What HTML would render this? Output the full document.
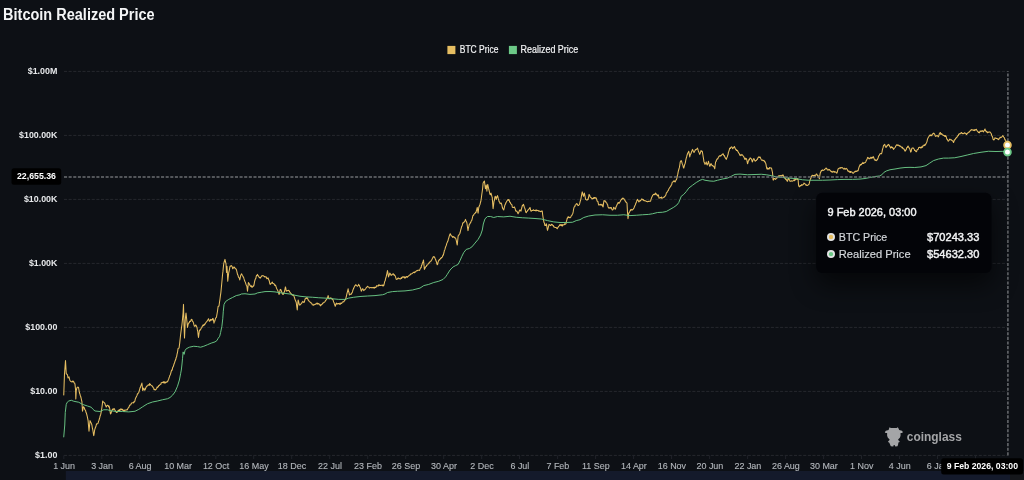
<!DOCTYPE html>
<html lang="en"><head><meta charset="utf-8"><title>Bitcoin Realized Price</title>
<style>
html,body{margin:0;padding:0;background:#0d1015;}
body{width:1024px;height:480px;overflow:hidden;font-family:"Liberation Sans",sans-serif;}
svg{display:block;will-change:transform;}
text{font-family:"Liberation Sans",sans-serif;}
</style></head><body>
<svg width="1024" height="480" viewBox="0 0 1024 480">
<rect width="1024" height="480" fill="#0d1015"/>

<rect x="65.8" y="471" width="944.2" height="9" fill="#141a2b"/>
<rect x="1010" y="471" width="14" height="9" fill="#15171b"/>
<text x="3.1" y="20.2" font-size="15.8" font-weight="700" fill="#f4f5f6" textLength="151.5" lengthAdjust="spacingAndGlyphs">Bitcoin Realized Price</text>
<rect x="447.4" y="45.9" width="8" height="8.2" fill="#e6be62"/>
<text x="459.8" y="53.1" font-size="10.1" fill="#f2f3f4" stroke="#f2f3f4" stroke-width="0.2" textLength="38.6" lengthAdjust="spacingAndGlyphs">BTC Price</text>
<rect x="508.9" y="45.9" width="8" height="8.2" fill="#6cc987"/>
<text x="520.6" y="53.1" font-size="10.1" fill="#f2f3f4" stroke="#f2f3f4" stroke-width="0.2" textLength="57.6" lengthAdjust="spacingAndGlyphs">Realized Price</text>
<line x1="64.0" y1="71.4" x2="1007.6" y2="71.4" stroke="#25282d" stroke-width="1" stroke-dasharray="3.08 1.54"/>
<line x1="64.0" y1="135.4" x2="1007.6" y2="135.4" stroke="#25282d" stroke-width="1" stroke-dasharray="3.08 1.54"/>
<line x1="64.0" y1="199.4" x2="1007.6" y2="199.4" stroke="#25282d" stroke-width="1" stroke-dasharray="3.08 1.54"/>
<line x1="64.0" y1="263.4" x2="1007.6" y2="263.4" stroke="#25282d" stroke-width="1" stroke-dasharray="3.08 1.54"/>
<line x1="64.0" y1="327.4" x2="1007.6" y2="327.4" stroke="#25282d" stroke-width="1" stroke-dasharray="3.08 1.54"/>
<line x1="64.0" y1="391.4" x2="1007.6" y2="391.4" stroke="#25282d" stroke-width="1" stroke-dasharray="3.08 1.54"/>
<line x1="64.0" y1="455.4" x2="1007.6" y2="455.4" stroke="#25282d" stroke-width="1" stroke-dasharray="3.08 1.54"/>
<text x="57.4" y="73.8" font-size="9.5" font-weight="700" fill="#e6e8ea" text-anchor="end" textLength="29.7" lengthAdjust="spacingAndGlyphs">$1.00M</text>
<text x="57.4" y="137.8" font-size="9.5" font-weight="700" fill="#e6e8ea" text-anchor="end" textLength="38.3" lengthAdjust="spacingAndGlyphs">$100.00K</text>
<text x="57.4" y="201.8" font-size="9.5" font-weight="700" fill="#e6e8ea" text-anchor="end" textLength="33.5" lengthAdjust="spacingAndGlyphs">$10.00K</text>
<text x="57.4" y="265.8" font-size="9.5" font-weight="700" fill="#e6e8ea" text-anchor="end" textLength="28.5" lengthAdjust="spacingAndGlyphs">$1.00K</text>
<text x="57.4" y="329.8" font-size="9.5" font-weight="700" fill="#e6e8ea" text-anchor="end" textLength="32.1" lengthAdjust="spacingAndGlyphs">$100.00</text>
<text x="57.4" y="393.8" font-size="9.5" font-weight="700" fill="#e6e8ea" text-anchor="end" textLength="27.2" lengthAdjust="spacingAndGlyphs">$10.00</text>
<text x="57.4" y="457.8" font-size="9.5" font-weight="700" fill="#e6e8ea" text-anchor="end" textLength="22.3" lengthAdjust="spacingAndGlyphs">$1.00</text>
<line x1="63.8" y1="455.4" x2="63.8" y2="459" stroke="#1f2228" stroke-width="1"/>
<line x1="101.8" y1="455.4" x2="101.8" y2="459" stroke="#1f2228" stroke-width="1"/>
<line x1="139.8" y1="455.4" x2="139.8" y2="459" stroke="#1f2228" stroke-width="1"/>
<line x1="177.8" y1="455.4" x2="177.8" y2="459" stroke="#1f2228" stroke-width="1"/>
<line x1="215.8" y1="455.4" x2="215.8" y2="459" stroke="#1f2228" stroke-width="1"/>
<line x1="253.7" y1="455.4" x2="253.7" y2="459" stroke="#1f2228" stroke-width="1"/>
<line x1="291.7" y1="455.4" x2="291.7" y2="459" stroke="#1f2228" stroke-width="1"/>
<line x1="329.7" y1="455.4" x2="329.7" y2="459" stroke="#1f2228" stroke-width="1"/>
<line x1="367.7" y1="455.4" x2="367.7" y2="459" stroke="#1f2228" stroke-width="1"/>
<line x1="405.7" y1="455.4" x2="405.7" y2="459" stroke="#1f2228" stroke-width="1"/>
<line x1="443.7" y1="455.4" x2="443.7" y2="459" stroke="#1f2228" stroke-width="1"/>
<line x1="481.7" y1="455.4" x2="481.7" y2="459" stroke="#1f2228" stroke-width="1"/>
<line x1="519.6" y1="455.4" x2="519.6" y2="459" stroke="#1f2228" stroke-width="1"/>
<line x1="557.6" y1="455.4" x2="557.6" y2="459" stroke="#1f2228" stroke-width="1"/>
<line x1="595.6" y1="455.4" x2="595.6" y2="459" stroke="#1f2228" stroke-width="1"/>
<line x1="633.6" y1="455.4" x2="633.6" y2="459" stroke="#1f2228" stroke-width="1"/>
<line x1="671.6" y1="455.4" x2="671.6" y2="459" stroke="#1f2228" stroke-width="1"/>
<line x1="709.6" y1="455.4" x2="709.6" y2="459" stroke="#1f2228" stroke-width="1"/>
<line x1="747.6" y1="455.4" x2="747.6" y2="459" stroke="#1f2228" stroke-width="1"/>
<line x1="785.6" y1="455.4" x2="785.6" y2="459" stroke="#1f2228" stroke-width="1"/>
<line x1="823.6" y1="455.4" x2="823.6" y2="459" stroke="#1f2228" stroke-width="1"/>
<line x1="861.5" y1="455.4" x2="861.5" y2="459" stroke="#1f2228" stroke-width="1"/>
<line x1="899.5" y1="455.4" x2="899.5" y2="459" stroke="#1f2228" stroke-width="1"/>
<line x1="937.5" y1="455.4" x2="937.5" y2="459" stroke="#1f2228" stroke-width="1"/>
<line x1="975.5" y1="455.4" x2="975.5" y2="459" stroke="#1f2228" stroke-width="1"/>
<text x="64.1" y="469" font-size="9.8" fill="#b4b8bd" stroke="#b4b8bd" stroke-width="0.12" text-anchor="middle" textLength="21.9" lengthAdjust="spacingAndGlyphs">1 Jun</text>
<text x="102.1" y="469" font-size="9.8" fill="#b4b8bd" stroke="#b4b8bd" stroke-width="0.12" text-anchor="middle" textLength="21.9" lengthAdjust="spacingAndGlyphs">3 Jan</text>
<text x="140.1" y="469" font-size="9.8" fill="#b4b8bd" stroke="#b4b8bd" stroke-width="0.12" text-anchor="middle" textLength="22.9" lengthAdjust="spacingAndGlyphs">6 Aug</text>
<text x="178.1" y="469" font-size="9.8" fill="#b4b8bd" stroke="#b4b8bd" stroke-width="0.12" text-anchor="middle" textLength="27.9" lengthAdjust="spacingAndGlyphs">10 Mar</text>
<text x="216.1" y="469" font-size="9.8" fill="#b4b8bd" stroke="#b4b8bd" stroke-width="0.12" text-anchor="middle" textLength="26.4" lengthAdjust="spacingAndGlyphs">12 Oct</text>
<text x="254.0" y="469" font-size="9.8" fill="#b4b8bd" stroke="#b4b8bd" stroke-width="0.12" text-anchor="middle" textLength="29.4" lengthAdjust="spacingAndGlyphs">16 May</text>
<text x="292.0" y="469" font-size="9.8" fill="#b4b8bd" stroke="#b4b8bd" stroke-width="0.12" text-anchor="middle" textLength="28.4" lengthAdjust="spacingAndGlyphs">18 Dec</text>
<text x="330.0" y="469" font-size="9.8" fill="#b4b8bd" stroke="#b4b8bd" stroke-width="0.12" text-anchor="middle" textLength="23.9" lengthAdjust="spacingAndGlyphs">22 Jul</text>
<text x="368.0" y="469" font-size="9.8" fill="#b4b8bd" stroke="#b4b8bd" stroke-width="0.12" text-anchor="middle" textLength="27.9" lengthAdjust="spacingAndGlyphs">23 Feb</text>
<text x="406.0" y="469" font-size="9.8" fill="#b4b8bd" stroke="#b4b8bd" stroke-width="0.12" text-anchor="middle" textLength="28.4" lengthAdjust="spacingAndGlyphs">26 Sep</text>
<text x="444.0" y="469" font-size="9.8" fill="#b4b8bd" stroke="#b4b8bd" stroke-width="0.12" text-anchor="middle" textLength="25.9" lengthAdjust="spacingAndGlyphs">30 Apr</text>
<text x="482.0" y="469" font-size="9.8" fill="#b4b8bd" stroke="#b4b8bd" stroke-width="0.12" text-anchor="middle" textLength="23.4" lengthAdjust="spacingAndGlyphs">2 Dec</text>
<text x="519.9" y="469" font-size="9.8" fill="#b4b8bd" stroke="#b4b8bd" stroke-width="0.12" text-anchor="middle" textLength="18.9" lengthAdjust="spacingAndGlyphs">6 Jul</text>
<text x="557.9" y="469" font-size="9.8" fill="#b4b8bd" stroke="#b4b8bd" stroke-width="0.12" text-anchor="middle" textLength="22.9" lengthAdjust="spacingAndGlyphs">7 Feb</text>
<text x="595.9" y="469" font-size="9.8" fill="#b4b8bd" stroke="#b4b8bd" stroke-width="0.12" text-anchor="middle" textLength="27.7" lengthAdjust="spacingAndGlyphs">11 Sep</text>
<text x="633.9" y="469" font-size="9.8" fill="#b4b8bd" stroke="#b4b8bd" stroke-width="0.12" text-anchor="middle" textLength="25.9" lengthAdjust="spacingAndGlyphs">14 Apr</text>
<text x="671.9" y="469" font-size="9.8" fill="#b4b8bd" stroke="#b4b8bd" stroke-width="0.12" text-anchor="middle" textLength="28.4" lengthAdjust="spacingAndGlyphs">16 Nov</text>
<text x="709.9" y="469" font-size="9.8" fill="#b4b8bd" stroke="#b4b8bd" stroke-width="0.12" text-anchor="middle" textLength="26.9" lengthAdjust="spacingAndGlyphs">20 Jun</text>
<text x="747.9" y="469" font-size="9.8" fill="#b4b8bd" stroke="#b4b8bd" stroke-width="0.12" text-anchor="middle" textLength="26.9" lengthAdjust="spacingAndGlyphs">22 Jan</text>
<text x="785.9" y="469" font-size="9.8" fill="#b4b8bd" stroke="#b4b8bd" stroke-width="0.12" text-anchor="middle" textLength="27.9" lengthAdjust="spacingAndGlyphs">26 Aug</text>
<text x="823.9" y="469" font-size="9.8" fill="#b4b8bd" stroke="#b4b8bd" stroke-width="0.12" text-anchor="middle" textLength="27.9" lengthAdjust="spacingAndGlyphs">30 Mar</text>
<text x="861.8" y="469" font-size="9.8" fill="#b4b8bd" stroke="#b4b8bd" stroke-width="0.12" text-anchor="middle" textLength="23.4" lengthAdjust="spacingAndGlyphs">1 Nov</text>
<text x="899.8" y="469" font-size="9.8" fill="#b4b8bd" stroke="#b4b8bd" stroke-width="0.12" text-anchor="middle" textLength="21.9" lengthAdjust="spacingAndGlyphs">4 Jun</text>
<text x="937.8" y="469" font-size="9.8" fill="#b4b8bd" stroke="#b4b8bd" stroke-width="0.12" text-anchor="middle" textLength="21.9" lengthAdjust="spacingAndGlyphs">6 Jan</text>
<path d="M889.63,427.13 L890.79,428.01 L896.63,428.01 L897.79,427.13 L898.55,428.53 L899.25,429.88 L901.88,430.75 L902.87,432.04 L902.17,432.97 L900.54,432.97 L900.54,435.71 L899.84,437.87 L898.09,439.50 L898.55,440.38 L899.72,441.14 L899.25,442.13 L898.38,442.54 L898.20,444.17 L897.50,446.21 L895.29,446.39 L894.59,445.05 L893.71,445.05 L893.30,446.39 L890.79,446.21 L890.04,444.46 L889.33,442.71 L888.46,442.13 L888.05,441.37 L889.22,440.55 L889.63,439.62 L887.88,437.87 L887.12,435.71 L887.12,433.09 L885.54,433.09 L884.84,432.21 L885.83,430.87 L888.63,429.88 L889.04,428.53 Z" fill="#a4a5a7"/>
<text x="906.8" y="440.9" font-size="13" font-weight="700" fill="#a4a5a7" textLength="55" lengthAdjust="spacingAndGlyphs">coinglass</text>
<path d="M63.75,395.00 L64.12,384.28 L64.50,373.75 L65.00,367.37 L65.50,360.60 L65.88,367.09 L66.25,373.75 L66.67,374.05 L67.08,374.23 L67.50,375.00 L68.00,378.00 L68.50,377.37 L69.00,376.90 L69.50,379.17 L70.00,380.60 L70.38,381.02 L70.76,381.51 L71.14,381.47 L71.52,381.79 L71.90,381.90 L72.30,381.81 L72.70,380.94 L73.10,381.74 L73.50,381.25 L73.88,382.23 L74.25,383.01 L74.62,382.97 L75.00,384.40 L75.60,390.00 L75.80,399.00 L76.30,390.00 L76.90,388.00 L77.30,387.15 L77.70,387.29 L78.10,387.26 L78.50,387.25 L78.95,389.99 L79.40,392.50 L79.80,393.73 L80.20,395.20 L80.60,396.25 L81.03,397.76 L81.47,399.87 L81.90,401.50 L82.50,411.25 L82.95,409.17 L83.40,406.80 L83.90,407.15 L84.40,408.00 L84.80,409.52 L85.20,409.94 L85.60,410.60 L86.03,412.52 L86.47,413.30 L86.90,415.00 L87.30,416.59 L87.70,418.60 L88.10,420.60 L88.55,425.88 L89.00,431.25 L89.50,426.17 L90.00,420.60 L90.38,421.57 L90.76,422.19 L91.14,422.88 L91.52,423.92 L91.90,425.00 L92.36,428.11 L92.83,429.99 L93.29,433.04 L93.75,435.60 L94.17,433.48 L94.58,430.47 L95.00,428.75 L95.42,427.52 L95.83,426.75 L96.25,425.00 L96.71,423.76 L97.17,423.93 L97.64,423.53 L98.10,423.10 L98.53,421.34 L98.97,420.39 L99.40,418.75 L99.80,417.48 L100.20,415.69 L100.60,415.00 L101.03,412.81 L101.47,410.25 L101.90,407.50 L102.30,404.61 L102.70,401.00 L103.12,402.00 L103.55,402.04 L103.98,402.40 L104.40,402.80 L104.86,403.36 L105.33,405.13 L105.79,405.72 L106.25,407.00 L106.67,406.26 L107.08,405.39 L107.50,405.30 L107.88,405.31 L108.26,405.86 L108.64,406.93 L109.02,406.05 L109.40,407.20 L109.77,408.91 L110.13,411.82 L110.50,414.00 L110.97,413.42 L111.43,411.95 L111.90,410.60 L112.32,409.57 L112.73,409.03 L113.15,409.81 L113.57,409.09 L113.98,408.63 L114.40,408.75 L114.80,409.87 L115.20,410.67 L115.60,411.06 L116.00,411.84 L116.40,412.50 L116.83,412.19 L117.25,412.16 L117.67,411.31 L118.10,410.60 L118.49,410.65 L118.89,410.51 L119.28,409.55 L119.67,410.49 L120.07,410.21 L120.46,409.90 L120.86,408.80 L121.25,409.40 L121.67,409.36 L122.08,410.12 L122.50,409.31 L122.92,410.13 L123.33,410.79 L123.75,410.60 L124.17,409.97 L124.58,410.95 L125.00,410.41 L125.42,410.01 L125.83,410.06 L126.25,410.05 L126.67,409.71 L127.08,409.97 L127.50,409.40 L127.92,408.42 L128.33,407.78 L128.75,407.60 L129.17,406.48 L129.58,405.40 L130.00,405.00 L130.38,404.98 L130.76,404.80 L131.14,403.69 L131.52,402.96 L131.90,403.10 L132.32,402.85 L132.73,402.64 L133.15,402.39 L133.57,402.83 L133.98,401.71 L134.40,401.90 L134.86,401.13 L135.32,398.92 L135.79,397.85 L136.25,396.90 L136.67,396.09 L137.08,395.23 L137.50,393.75 L137.92,393.66 L138.33,393.05 L138.75,392.50 L139.17,391.09 L139.58,389.62 L140.00,388.10 L140.38,387.32 L140.76,386.03 L141.14,385.21 L141.52,384.32 L141.90,383.10 L142.32,386.85 L142.75,390.60 L143.25,389.64 L143.75,388.10 L144.17,388.95 L144.58,390.13 L145.00,390.00 L145.42,389.09 L145.83,387.77 L146.25,386.90 L146.71,386.28 L147.18,385.95 L147.64,385.83 L148.10,385.00 L148.48,384.75 L148.86,384.91 L149.24,385.34 L149.62,383.55 L150.00,384.40 L150.42,384.28 L150.83,385.11 L151.25,385.48 L151.67,385.72 L152.08,385.78 L152.50,386.25 L152.88,387.13 L153.26,387.62 L153.64,387.94 L154.02,389.69 L154.40,389.40 L154.80,389.73 L155.20,389.59 L155.60,390.00 L155.98,389.46 L156.36,388.91 L156.74,388.48 L157.12,386.96 L157.50,387.50 L157.92,386.80 L158.33,386.85 L158.75,385.51 L159.17,385.41 L159.58,385.28 L160.00,384.40 L160.42,384.37 L160.83,384.25 L161.25,382.68 L161.67,382.83 L162.08,382.48 L162.50,382.25 L162.94,382.56 L163.39,382.81 L163.83,381.44 L164.27,382.95 L164.71,382.06 L165.16,382.94 L165.60,382.75 L166.03,381.88 L166.46,382.22 L166.89,382.30 L167.32,381.49 L167.75,381.25 L168.16,380.24 L168.57,379.38 L168.99,378.04 L169.40,376.90 L169.86,375.45 L170.32,374.66 L170.79,373.06 L171.25,371.25 L171.71,370.05 L172.18,370.12 L172.64,367.55 L173.10,366.90 L173.48,366.11 L173.86,364.52 L174.24,363.53 L174.62,362.61 L175.00,361.20 L175.40,360.21 L175.80,359.29 L176.20,357.39 L176.60,356.90 L177.05,354.13 L177.50,352.50 L178.10,348.40 L178.60,348.33 L179.10,347.80 L179.70,343.10 L180.30,337.50 L180.70,334.01 L181.10,330.86 L181.50,327.57 L181.90,325.00 L182.30,321.31 L182.70,316.95 L183.10,312.50 L183.50,304.40 L184.00,325.00 L184.50,338.10 L184.88,329.61 L185.25,320.00 L185.62,316.19 L186.00,313.10 L186.45,317.18 L186.90,321.25 L187.50,327.50 L188.00,324.87 L188.50,323.10 L188.88,322.93 L189.25,322.78 L189.62,321.37 L190.00,321.25 L190.38,321.38 L190.75,320.70 L191.12,319.79 L191.50,319.40 L191.90,319.28 L192.30,321.18 L192.70,321.24 L193.10,321.90 L193.53,323.12 L193.97,324.95 L194.40,326.25 L194.80,325.99 L195.20,325.99 L195.60,325.00 L196.03,325.25 L196.47,326.70 L196.90,326.90 L197.32,329.64 L197.75,331.25 L198.12,334.93 L198.50,337.50 L198.95,333.98 L199.40,330.60 L199.80,329.92 L200.20,330.19 L200.60,329.40 L201.01,328.66 L201.43,327.87 L201.84,327.58 L202.25,326.25 L202.62,325.99 L203.00,325.05 L203.38,325.62 L203.75,325.60 L204.21,324.27 L204.68,324.66 L205.14,323.85 L205.60,323.10 L206.03,322.25 L206.47,321.86 L206.90,321.25 L207.30,320.94 L207.70,320.03 L208.10,319.88 L208.50,318.75 L208.95,319.98 L209.40,321.25 L209.80,321.03 L210.20,320.58 L210.60,319.40 L211.03,320.21 L211.47,319.54 L211.90,320.00 L212.30,319.92 L212.70,318.45 L213.10,318.75 L213.55,320.51 L214.00,323.10 L214.42,321.12 L214.83,321.04 L215.25,319.40 L215.67,318.10 L216.08,317.73 L216.50,316.90 L217.00,314.00 L217.50,311.25 L218.10,306.50 L218.55,306.24 L219.00,306.00 L219.50,302.28 L220.00,299.00 L220.42,295.67 L220.83,292.85 L221.25,288.75 L221.67,284.18 L222.08,279.79 L222.50,275.00 L222.92,271.63 L223.33,267.42 L223.75,263.75 L224.17,261.82 L224.58,260.64 L225.00,259.40 L225.50,261.98 L226.00,263.75 L226.50,272.50 L227.00,266.25 L227.38,273.12 L227.75,281.25 L228.25,276.65 L228.75,272.50 L229.17,270.80 L229.58,268.63 L230.00,266.25 L230.38,266.09 L230.75,266.23 L231.12,265.83 L231.50,265.60 L231.92,266.20 L232.33,267.11 L232.75,268.75 L233.17,267.89 L233.58,267.87 L234.00,266.90 L234.42,267.30 L234.83,267.79 L235.25,268.75 L235.67,268.87 L236.08,269.00 L236.50,270.00 L237.00,272.16 L237.50,274.40 L237.92,274.99 L238.33,276.61 L238.75,277.50 L239.25,277.85 L239.75,280.00 L240.25,277.62 L240.75,275.00 L241.13,274.56 L241.52,273.86 L241.90,274.40 L242.30,275.51 L242.70,275.96 L243.10,276.90 L243.53,277.09 L243.97,278.63 L244.40,280.00 L244.80,281.14 L245.20,281.89 L245.60,283.10 L246.03,284.45 L246.47,285.48 L246.90,286.25 L247.50,291.25 L247.95,287.13 L248.40,282.50 L248.90,283.25 L249.40,283.75 L249.80,285.09 L250.20,285.67 L250.60,286.25 L250.98,286.55 L251.36,285.72 L251.74,286.98 L252.12,287.27 L252.50,286.90 L252.88,286.31 L253.25,285.77 L253.62,286.21 L254.00,285.00 L254.50,281.83 L255.00,280.00 L255.42,278.93 L255.83,278.42 L256.25,276.25 L256.67,275.28 L257.08,275.28 L257.50,274.40 L257.88,275.74 L258.25,275.60 L258.62,276.49 L259.00,276.90 L259.42,277.64 L259.83,277.36 L260.25,278.10 L260.66,277.44 L261.07,276.96 L261.49,276.54 L261.90,275.60 L262.36,275.75 L262.82,275.85 L263.29,275.70 L263.75,276.25 L264.21,276.28 L264.68,276.91 L265.14,276.78 L265.60,276.90 L265.98,276.82 L266.36,277.06 L266.74,278.63 L267.12,278.29 L267.50,278.10 L267.88,278.82 L268.25,278.06 L268.62,279.76 L269.00,280.00 L269.42,281.65 L269.83,283.57 L270.25,284.40 L270.66,284.09 L271.07,283.42 L271.49,283.17 L271.90,282.50 L272.36,282.07 L272.82,283.52 L273.29,283.56 L273.75,283.75 L274.12,283.80 L274.50,284.88 L274.88,285.38 L275.25,285.00 L275.67,285.50 L276.08,286.81 L276.50,288.10 L276.92,289.04 L277.33,289.84 L277.75,290.60 L278.17,291.72 L278.58,292.76 L279.00,294.40 L279.42,293.54 L279.83,291.46 L280.25,289.40 L280.67,289.56 L281.08,290.12 L281.50,291.25 L281.90,292.68 L282.30,293.20 L282.70,294.30 L283.10,294.40 L283.53,293.87 L283.97,292.40 L284.40,291.90 L284.90,289.50 L285.40,286.90 L285.82,288.25 L286.25,291.25 L286.67,290.75 L287.08,290.79 L287.50,290.60 L287.88,290.80 L288.25,290.32 L288.62,290.55 L289.00,290.60 L289.40,291.40 L289.80,291.99 L290.20,292.72 L290.60,293.10 L291.01,293.65 L291.43,293.93 L291.84,294.82 L292.25,295.00 L292.62,295.17 L293.00,294.99 L293.38,295.21 L293.75,295.60 L294.12,296.70 L294.50,297.76 L294.88,298.96 L295.25,300.00 L295.75,301.25 L296.25,302.50 L296.75,306.32 L297.25,310.00 L297.68,304.95 L298.10,300.00 L298.53,301.19 L298.97,303.49 L299.40,305.00 L299.86,305.09 L300.32,304.54 L300.79,303.99 L301.25,303.75 L301.67,303.30 L302.08,302.15 L302.50,301.90 L302.88,301.33 L303.25,302.22 L303.62,302.00 L304.00,302.50 L304.40,301.84 L304.80,300.21 L305.20,298.69 L305.60,298.75 L306.03,297.94 L306.47,298.52 L306.90,297.50 L307.30,298.19 L307.70,298.65 L308.10,300.00 L308.48,300.09 L308.86,300.96 L309.24,301.33 L309.62,301.59 L310.00,301.90 L310.38,302.76 L310.75,302.77 L311.12,302.79 L311.50,303.10 L311.90,303.80 L312.30,304.68 L312.70,304.89 L313.10,305.00 L313.48,305.27 L313.86,304.35 L314.24,304.58 L314.62,304.80 L315.00,304.40 L315.38,304.03 L315.76,304.29 L316.14,303.85 L316.52,303.71 L316.90,303.10 L317.36,303.12 L317.82,304.27 L318.29,303.87 L318.75,303.50 L319.17,303.92 L319.58,304.53 L320.00,305.00 L320.38,305.87 L320.76,304.63 L321.14,304.97 L321.52,304.89 L321.90,304.40 L322.36,303.93 L322.82,303.01 L323.29,303.05 L323.75,302.50 L324.21,302.16 L324.68,301.98 L325.14,301.37 L325.60,300.60 L326.01,299.98 L326.43,299.67 L326.84,298.93 L327.25,298.10 L327.68,296.93 L328.10,295.60 L328.55,297.20 L329.00,298.75 L329.40,298.50 L329.80,298.69 L330.20,297.86 L330.60,298.10 L330.98,298.12 L331.36,298.62 L331.74,298.32 L332.12,298.97 L332.50,299.40 L332.88,299.41 L333.25,300.69 L333.62,301.94 L334.00,302.50 L334.42,303.97 L334.83,304.98 L335.25,306.25 L335.67,305.11 L336.08,303.61 L336.50,303.10 L336.90,303.96 L337.30,303.62 L337.70,304.00 L338.10,303.75 L338.48,303.46 L338.86,303.78 L339.24,303.21 L339.62,304.25 L340.00,304.00 L340.38,304.18 L340.76,302.92 L341.14,303.44 L341.52,303.52 L341.90,303.10 L342.36,302.13 L342.82,301.81 L343.29,301.80 L343.75,301.90 L344.21,301.04 L344.68,300.12 L345.14,300.04 L345.60,299.40 L346.03,297.61 L346.47,295.87 L346.90,293.75 L347.30,292.35 L347.70,290.99 L348.10,288.75 L348.53,291.28 L348.97,292.42 L349.40,295.00 L349.80,294.66 L350.20,294.30 L350.60,294.14 L351.00,294.40 L351.38,293.74 L351.75,293.15 L352.12,292.71 L352.50,291.90 L352.88,290.20 L353.25,289.23 L353.62,288.59 L354.00,287.50 L354.40,286.74 L354.80,286.01 L355.20,285.41 L355.60,284.75 L355.98,284.76 L356.36,285.62 L356.74,285.78 L357.12,285.92 L357.50,286.25 L357.88,285.68 L358.25,285.56 L358.62,284.28 L359.00,285.00 L359.42,285.46 L359.83,286.68 L360.25,287.50 L360.75,288.80 L361.25,291.25 L361.67,290.49 L362.08,289.64 L362.50,288.75 L362.92,288.84 L363.33,289.89 L363.75,290.60 L364.21,290.02 L364.68,289.85 L365.14,289.45 L365.60,288.75 L365.98,288.24 L366.36,287.43 L366.74,287.20 L367.12,286.73 L367.50,286.25 L367.88,286.90 L368.26,287.10 L368.64,287.09 L369.02,287.22 L369.40,288.10 L369.86,287.87 L370.32,287.64 L370.79,287.41 L371.25,287.75 L371.67,287.66 L372.08,287.48 L372.50,287.67 L372.92,287.78 L373.33,287.38 L373.75,287.50 L374.17,288.28 L374.58,287.18 L375.00,287.62 L375.42,287.15 L375.83,287.42 L376.25,286.90 L376.67,285.64 L377.08,285.90 L377.50,285.92 L377.92,285.70 L378.33,286.00 L378.75,284.75 L379.17,284.96 L379.58,285.40 L380.00,285.29 L380.42,285.44 L380.83,285.36 L381.25,285.25 L381.67,285.25 L382.08,285.56 L382.50,285.02 L382.92,285.93 L383.33,285.16 L383.75,285.60 L384.25,283.52 L384.75,281.25 L385.17,280.81 L385.58,278.67 L386.00,277.50 L386.38,275.78 L386.75,274.49 L387.12,272.33 L387.50,270.60 L388.00,273.44 L388.50,276.90 L388.92,275.73 L389.33,274.59 L389.75,273.10 L390.12,273.84 L390.50,273.76 L390.88,275.19 L391.25,275.00 L391.71,275.32 L392.18,274.38 L392.64,274.16 L393.10,273.75 L393.48,273.96 L393.86,275.03 L394.24,274.59 L394.62,275.49 L395.00,275.60 L395.42,276.68 L395.83,277.87 L396.25,279.40 L396.71,279.35 L397.18,279.26 L397.64,278.42 L398.10,278.10 L398.48,277.97 L398.86,278.67 L399.24,278.47 L399.62,278.74 L400.00,278.75 L400.42,279.02 L400.83,278.56 L401.25,277.63 L401.67,278.38 L402.08,277.21 L402.50,276.90 L402.92,277.30 L403.33,276.85 L403.75,277.18 L404.17,276.64 L404.58,278.08 L405.00,277.50 L405.42,277.92 L405.83,276.84 L406.25,276.63 L406.67,276.48 L407.08,277.45 L407.50,276.90 L407.92,276.41 L408.33,276.24 L408.75,275.83 L409.17,275.59 L409.58,274.90 L410.00,275.00 L410.42,274.69 L410.83,273.82 L411.25,274.02 L411.67,273.85 L412.08,273.59 L412.50,273.10 L412.92,272.81 L413.33,272.36 L413.75,272.56 L414.17,272.12 L414.58,272.70 L415.00,271.90 L415.42,271.98 L415.83,271.42 L416.25,271.07 L416.67,270.77 L417.08,270.46 L417.50,270.60 L417.92,270.27 L418.33,270.31 L418.75,270.20 L419.17,270.02 L419.58,270.40 L420.00,269.40 L420.38,268.25 L420.76,267.64 L421.14,267.82 L421.52,265.17 L421.90,265.00 L422.30,263.55 L422.70,262.56 L423.10,261.31 L423.50,260.00 L423.95,264.85 L424.40,269.40 L424.80,268.48 L425.20,267.87 L425.60,266.90 L425.98,266.54 L426.36,266.43 L426.74,265.04 L427.12,265.04 L427.50,265.00 L427.88,264.50 L428.26,263.61 L428.64,263.10 L429.02,263.24 L429.40,262.50 L429.86,261.78 L430.32,261.79 L430.79,261.36 L431.25,260.60 L431.67,259.88 L432.08,259.13 L432.50,258.10 L432.88,257.66 L433.25,256.76 L433.62,256.89 L434.00,256.50 L434.40,257.40 L434.80,257.75 L435.20,258.64 L435.60,259.40 L436.01,261.01 L436.43,261.72 L436.84,263.62 L437.25,264.70 L437.62,264.31 L438.00,262.29 L438.38,261.46 L438.75,260.30 L439.21,259.77 L439.68,259.94 L440.14,259.00 L440.60,258.40 L440.98,258.44 L441.36,257.54 L441.74,257.49 L442.12,257.20 L442.50,256.90 L442.88,255.13 L443.25,255.25 L443.62,253.94 L444.00,252.50 L444.40,250.44 L444.80,249.98 L445.20,248.25 L445.60,246.90 L446.01,245.97 L446.43,244.84 L446.84,243.03 L447.25,242.50 L447.62,241.32 L448.00,240.87 L448.38,238.98 L448.75,238.10 L449.12,236.62 L449.50,235.41 L449.88,234.37 L450.25,233.75 L450.66,234.50 L451.07,235.64 L451.49,235.79 L451.90,236.25 L452.36,236.51 L452.82,237.42 L453.29,236.54 L453.75,236.90 L454.21,236.94 L454.68,237.70 L455.14,238.01 L455.60,238.10 L456.01,239.44 L456.43,241.11 L456.84,243.39 L457.25,245.00 L457.68,240.72 L458.10,236.25 L458.51,235.13 L458.93,234.92 L459.34,234.17 L459.75,233.75 L460.12,232.51 L460.50,230.88 L460.88,229.48 L461.25,228.10 L461.62,226.72 L462.00,226.00 L462.38,224.88 L462.75,223.10 L463.16,222.66 L463.57,222.82 L463.99,221.91 L464.40,221.90 L464.77,221.09 L465.13,220.52 L465.50,219.40 L465.97,221.18 L466.43,221.65 L466.90,223.00 L467.27,225.51 L467.63,228.14 L468.00,230.60 L468.40,228.06 L468.80,226.67 L469.20,224.70 L469.60,223.89 L470.00,223.74 L470.40,222.62 L470.80,222.50 L471.17,220.92 L471.53,220.85 L471.90,220.00 L472.35,218.10 L472.80,216.00 L473.20,215.23 L473.60,215.21 L474.00,214.21 L474.40,213.75 L474.80,213.21 L475.20,213.31 L475.60,212.22 L476.00,212.50 L476.42,210.58 L476.83,209.16 L477.25,207.50 L477.68,210.62 L478.10,213.10 L478.43,210.24 L478.75,207.50 L479.17,206.58 L479.58,205.18 L480.00,204.40 L480.42,202.63 L480.83,201.27 L481.25,198.75 L481.75,194.74 L482.25,191.25 L482.68,188.07 L483.10,183.10 L483.53,182.16 L483.97,181.71 L484.40,181.00 L484.90,184.94 L485.40,188.75 L485.82,187.26 L486.25,185.00 L486.57,187.65 L486.90,191.25 L487.32,187.03 L487.75,184.40 L488.17,186.50 L488.58,188.44 L489.00,190.00 L489.50,192.44 L490.00,194.40 L490.50,194.75 L491.00,193.10 L491.42,194.64 L491.83,196.13 L492.25,197.50 L492.68,203.48 L493.10,208.75 L493.55,205.14 L494.00,201.25 L494.42,200.22 L494.83,197.45 L495.25,196.25 L495.75,197.68 L496.25,199.40 L496.67,196.82 L497.08,197.18 L497.50,195.60 L497.92,196.93 L498.33,198.88 L498.75,200.00 L499.12,201.76 L499.50,201.87 L499.88,202.72 L500.25,203.75 L500.75,203.24 L501.25,203.10 L501.67,204.45 L502.08,206.19 L502.50,208.10 L502.92,208.98 L503.33,209.38 L503.75,210.00 L504.25,207.83 L504.75,205.60 L505.17,204.50 L505.58,203.88 L506.00,202.50 L506.38,202.06 L506.75,201.20 L507.12,200.88 L507.50,200.00 L507.88,199.88 L508.25,199.44 L508.62,200.37 L509.00,199.75 L509.50,201.30 L510.00,202.50 L510.38,202.61 L510.75,203.86 L511.12,204.06 L511.50,204.40 L511.92,204.84 L512.33,207.08 L512.75,207.50 L513.16,207.48 L513.58,207.54 L513.99,207.13 L514.40,206.90 L514.80,208.08 L515.20,208.78 L515.60,210.60 L516.03,211.19 L516.47,211.04 L516.90,211.25 L517.30,211.97 L517.70,213.05 L518.10,213.75 L518.51,212.84 L518.92,212.13 L519.34,210.80 L519.75,210.00 L520.17,210.40 L520.58,210.02 L521.00,211.25 L521.42,209.21 L521.83,207.74 L522.25,205.60 L522.67,205.71 L523.08,204.66 L523.50,204.40 L523.92,205.59 L524.33,207.47 L524.75,208.10 L525.17,209.44 L525.58,211.31 L526.00,212.50 L526.38,212.66 L526.75,211.57 L527.12,211.54 L527.50,210.60 L527.92,209.93 L528.33,209.88 L528.75,209.40 L529.17,208.74 L529.58,208.18 L530.00,207.50 L530.42,209.18 L530.83,210.91 L531.25,211.25 L531.71,210.68 L532.17,210.41 L532.64,210.50 L533.10,210.00 L533.48,209.72 L533.86,210.43 L534.24,210.58 L534.62,210.37 L535.00,210.60 L535.42,210.80 L535.83,210.01 L536.25,210.89 L536.67,210.01 L537.08,210.34 L537.50,210.60 L537.92,210.50 L538.33,210.66 L538.75,211.25 L539.17,211.06 L539.58,210.99 L540.00,211.25 L540.45,211.41 L540.90,211.75 L541.35,211.10 L541.80,211.19 L542.25,211.00 L542.67,214.72 L543.10,217.50 L543.55,220.10 L544.00,222.50 L544.42,223.05 L544.83,225.51 L545.25,225.60 L545.75,225.51 L546.25,223.75 L546.67,225.18 L547.08,228.10 L547.50,230.30 L547.88,228.98 L548.25,227.72 L548.62,226.13 L549.00,224.40 L549.42,224.70 L549.83,224.80 L550.25,225.60 L550.66,225.34 L551.08,225.39 L551.49,224.29 L551.90,224.40 L552.36,224.63 L552.83,225.64 L553.29,225.54 L553.75,226.90 L554.21,226.95 L554.67,227.03 L555.14,227.52 L555.60,227.50 L556.01,227.55 L556.42,227.79 L556.84,228.29 L557.25,228.75 L557.62,228.11 L558.00,227.25 L558.38,226.88 L558.75,226.25 L559.17,225.92 L559.58,225.47 L560.00,224.40 L560.38,225.35 L560.75,224.70 L561.12,225.14 L561.50,225.60 L561.95,224.49 L562.40,225.98 L562.85,224.81 L563.30,224.91 L563.75,224.75 L564.20,224.75 L564.65,223.83 L565.10,224.33 L565.55,223.94 L566.00,223.75 L566.42,221.17 L566.83,220.09 L567.25,218.10 L567.62,218.25 L568.00,216.79 L568.38,217.51 L568.75,216.90 L569.17,217.26 L569.58,217.65 L570.00,217.75 L570.38,217.38 L570.75,217.17 L571.12,216.05 L571.50,215.60 L571.92,215.32 L572.33,214.21 L572.75,213.75 L573.17,211.94 L573.58,209.27 L574.00,207.50 L574.42,206.63 L574.83,206.49 L575.25,205.00 L575.66,204.86 L576.08,204.31 L576.49,203.63 L576.90,203.75 L577.30,204.07 L577.70,205.06 L578.10,205.60 L578.53,205.56 L578.97,204.96 L579.40,204.40 L579.80,203.13 L580.20,201.45 L580.60,200.00 L581.10,198.01 L581.60,195.00 L581.92,193.30 L582.25,191.90 L582.67,193.14 L583.08,195.14 L583.50,196.25 L583.95,194.70 L584.40,193.10 L584.80,195.09 L585.20,197.08 L585.60,199.40 L586.03,199.50 L586.47,200.04 L586.90,200.00 L587.30,199.93 L587.70,199.14 L588.10,199.40 L588.60,197.06 L589.10,194.40 L589.48,195.24 L589.85,195.57 L590.23,197.02 L590.60,197.50 L590.98,197.64 L591.36,197.87 L591.74,198.55 L592.12,199.00 L592.50,198.75 L592.88,198.24 L593.26,198.42 L593.64,197.67 L594.02,198.63 L594.40,197.50 L594.86,197.46 L595.33,198.25 L595.79,197.70 L596.25,198.10 L596.67,199.46 L597.08,201.04 L597.50,201.25 L597.92,201.53 L598.33,203.58 L598.75,205.00 L599.21,205.04 L599.67,204.66 L600.14,204.30 L600.60,204.40 L601.01,205.37 L601.42,204.73 L601.84,204.23 L602.25,205.00 L602.67,206.27 L603.10,206.90 L603.55,203.10 L604.00,200.60 L604.40,201.20 L604.80,200.71 L605.20,201.14 L605.60,201.25 L606.01,202.52 L606.42,202.87 L606.84,203.08 L607.25,204.40 L607.62,204.68 L608.00,206.70 L608.38,207.46 L608.75,208.10 L609.21,207.64 L609.67,208.13 L610.14,207.84 L610.60,207.50 L610.98,208.25 L611.36,207.64 L611.74,208.89 L612.12,209.84 L612.50,210.00 L612.88,209.72 L613.25,209.21 L613.62,207.38 L614.00,207.75 L614.40,208.00 L614.80,208.31 L615.20,209.28 L615.60,208.50 L616.03,206.97 L616.47,206.04 L616.90,205.00 L617.30,204.18 L617.70,203.67 L618.10,202.50 L618.53,202.53 L618.97,203.34 L619.40,203.10 L619.80,202.03 L620.20,201.65 L620.60,200.57 L621.00,200.00 L621.42,199.68 L621.84,198.98 L622.26,198.25 L622.68,198.90 L623.10,198.10 L623.51,198.69 L623.92,198.84 L624.34,199.60 L624.75,200.00 L625.17,201.13 L625.58,201.13 L626.00,202.25 L626.50,202.63 L627.00,203.10 L627.50,212.50 L628.00,218.75 L628.38,216.13 L628.75,213.10 L629.17,212.68 L629.58,211.74 L630.00,211.25 L630.42,209.83 L630.83,210.49 L631.25,209.40 L631.67,209.72 L632.08,209.80 L632.50,210.00 L632.88,209.42 L633.25,209.15 L633.62,208.41 L634.00,208.10 L634.42,206.68 L634.83,205.75 L635.25,205.00 L635.67,203.74 L636.08,202.70 L636.50,201.90 L637.00,200.21 L637.50,199.40 L637.92,200.48 L638.33,200.57 L638.75,201.90 L639.12,201.83 L639.50,200.86 L639.88,201.06 L640.25,200.60 L640.66,200.72 L641.08,199.88 L641.49,199.12 L641.90,199.00 L642.36,199.42 L642.83,199.86 L643.29,199.54 L643.75,200.60 L644.21,200.47 L644.67,200.86 L645.14,200.72 L645.60,201.00 L646.02,201.11 L646.43,201.45 L646.85,201.54 L647.27,201.68 L647.68,201.64 L648.10,201.50 L648.52,201.35 L648.93,201.41 L649.35,201.27 L649.77,201.21 L650.18,201.22 L650.60,201.25 L651.03,199.14 L651.47,198.22 L651.90,196.90 L652.30,196.27 L652.70,195.28 L653.10,195.02 L653.50,194.40 L653.94,194.43 L654.38,194.01 L654.81,194.70 L655.25,193.75 L655.66,193.07 L656.08,194.30 L656.49,193.99 L656.90,195.00 L657.30,195.29 L657.70,195.84 L658.10,194.75 L658.55,195.47 L659.00,198.10 L659.40,198.00 L659.80,198.00 L660.20,197.54 L660.60,197.50 L661.01,197.86 L661.42,196.95 L661.84,198.27 L662.25,198.10 L662.69,198.03 L663.12,197.68 L663.56,197.24 L664.00,197.25 L664.40,197.08 L664.80,196.24 L665.20,196.10 L665.60,195.60 L666.03,194.37 L666.47,192.68 L666.90,192.50 L667.30,191.85 L667.70,191.31 L668.10,190.60 L668.51,190.11 L668.92,188.72 L669.34,188.26 L669.75,187.50 L670.12,187.11 L670.50,186.31 L670.88,186.10 L671.25,185.00 L671.62,184.98 L672.00,183.10 L672.38,181.95 L672.75,181.90 L673.17,181.79 L673.58,181.61 L674.00,180.60 L674.42,181.38 L674.83,181.78 L675.25,181.90 L675.67,180.83 L676.08,179.96 L676.50,179.40 L676.92,178.07 L677.33,175.72 L677.75,174.40 L678.17,171.83 L678.58,170.25 L679.00,168.75 L679.42,167.41 L679.83,164.91 L680.25,161.90 L680.75,160.99 L681.25,160.60 L681.67,161.59 L682.08,163.22 L682.50,164.40 L682.92,165.35 L683.33,167.36 L683.75,168.10 L684.17,166.62 L684.58,164.79 L685.00,163.75 L685.42,162.36 L685.83,159.76 L686.25,158.10 L686.67,156.73 L687.08,155.20 L687.50,153.75 L687.92,152.80 L688.33,152.21 L688.75,151.25 L689.25,153.81 L689.75,156.90 L690.17,155.15 L690.58,153.96 L691.00,153.75 L691.38,152.18 L691.75,151.29 L692.12,150.48 L692.50,149.40 L692.88,150.20 L693.25,151.16 L693.62,151.77 L694.00,152.50 L694.40,151.57 L694.80,150.98 L695.20,149.82 L695.60,150.00 L695.98,149.56 L696.36,149.42 L696.74,149.06 L697.12,148.43 L697.50,148.10 L697.92,149.30 L698.33,150.99 L698.75,151.90 L699.25,153.16 L699.75,154.40 L700.17,153.41 L700.58,152.09 L701.00,150.60 L701.42,150.90 L701.83,151.53 L702.25,151.25 L702.67,153.53 L703.10,156.25 L703.55,158.94 L704.00,161.90 L704.50,162.84 L705.00,164.40 L705.42,163.26 L705.83,163.32 L706.25,161.90 L706.75,164.12 L707.25,165.00 L707.67,163.76 L708.08,162.72 L708.50,161.25 L708.92,163.36 L709.33,164.89 L709.75,166.25 L710.17,165.87 L710.58,164.10 L711.00,163.75 L711.38,163.97 L711.75,164.85 L712.12,165.68 L712.50,165.60 L712.88,165.96 L713.25,165.92 L713.62,166.44 L714.00,166.90 L714.38,167.57 L714.75,168.75 L715.17,165.00 L715.60,161.90 L716.03,161.64 L716.47,160.00 L716.90,159.40 L717.30,158.78 L717.70,158.97 L718.10,157.98 L718.50,156.90 L718.88,156.70 L719.25,156.02 L719.62,156.08 L720.00,155.60 L720.38,156.07 L720.75,155.54 L721.12,155.63 L721.50,155.00 L721.90,154.72 L722.30,154.57 L722.70,153.99 L723.10,153.75 L723.51,154.70 L723.92,155.82 L724.34,155.57 L724.75,156.90 L725.12,157.50 L725.50,158.24 L725.88,158.56 L726.25,159.40 L726.75,158.03 L727.25,156.90 L727.67,155.53 L728.08,154.33 L728.50,151.90 L728.88,151.19 L729.25,150.12 L729.62,148.46 L730.00,148.10 L730.38,148.53 L730.75,147.53 L731.12,147.19 L731.50,146.90 L731.92,147.09 L732.33,148.11 L732.75,148.75 L733.16,147.77 L733.58,147.65 L733.99,147.24 L734.40,146.50 L734.80,147.48 L735.20,148.54 L735.60,149.40 L736.01,149.38 L736.42,150.54 L736.84,150.05 L737.25,150.60 L737.62,150.53 L738.00,151.78 L738.38,152.18 L738.75,153.10 L739.12,153.34 L739.50,154.22 L739.88,155.09 L740.25,155.60 L740.66,154.85 L741.08,154.95 L741.49,155.24 L741.90,154.40 L742.30,155.12 L742.70,155.27 L743.10,155.84 L743.50,156.25 L743.88,156.99 L744.25,157.81 L744.62,158.89 L745.00,159.40 L745.38,159.20 L745.75,158.16 L746.12,158.90 L746.50,158.75 L747.00,160.91 L747.50,163.75 L747.88,162.91 L748.25,161.34 L748.62,160.54 L749.00,159.40 L749.40,159.90 L749.80,158.35 L750.20,158.00 L750.60,158.10 L751.01,158.51 L751.42,159.09 L751.84,160.24 L752.25,161.90 L752.62,161.25 L753.00,160.08 L753.38,158.83 L753.75,158.75 L754.12,158.81 L754.50,160.23 L754.88,160.33 L755.25,161.25 L755.66,160.65 L756.08,160.45 L756.49,160.38 L756.90,159.40 L757.30,159.51 L757.70,158.54 L758.10,157.58 L758.50,156.90 L758.88,156.97 L759.25,157.58 L759.62,157.44 L760.00,156.90 L760.38,157.56 L760.75,158.62 L761.12,159.33 L761.50,160.00 L761.90,160.17 L762.30,160.11 L762.70,159.95 L763.10,160.60 L763.51,160.56 L763.92,160.34 L764.34,161.55 L764.75,161.25 L765.17,162.50 L765.58,162.89 L766.00,164.40 L766.45,167.11 L766.90,168.75 L767.30,169.03 L767.70,167.90 L768.10,169.26 L768.50,168.50 L768.88,168.62 L769.25,168.91 L769.62,167.47 L770.00,167.75 L770.38,168.04 L770.75,168.09 L771.12,168.09 L771.50,168.10 L772.00,170.37 L772.50,172.50 L773.10,180.00 L773.53,179.98 L773.97,178.60 L774.40,178.75 L774.80,178.49 L775.20,178.65 L775.60,179.40 L776.03,178.75 L776.47,178.30 L776.90,178.10 L777.30,177.62 L777.70,176.97 L778.10,176.25 L778.48,176.13 L778.86,175.73 L779.24,175.69 L779.62,176.09 L780.00,175.60 L780.38,175.89 L780.76,175.64 L781.14,175.48 L781.52,176.19 L781.90,175.60 L782.30,175.17 L782.70,175.45 L783.10,175.00 L783.53,176.27 L783.97,176.57 L784.40,177.50 L784.80,178.29 L785.20,178.03 L785.60,179.31 L786.00,179.40 L786.38,179.94 L786.75,179.72 L787.12,181.04 L787.50,181.25 L788.00,179.34 L788.50,178.10 L788.88,179.37 L789.25,179.42 L789.62,180.40 L790.00,181.25 L790.38,181.31 L790.76,181.02 L791.14,181.20 L791.52,180.84 L791.90,181.00 L792.36,181.16 L792.83,180.80 L793.29,180.78 L793.75,180.60 L794.17,179.35 L794.58,180.64 L795.00,180.00 L795.38,179.76 L795.76,178.82 L796.14,179.29 L796.52,179.18 L796.90,178.75 L797.30,179.37 L797.70,178.77 L798.10,179.40 L798.42,183.41 L798.75,186.25 L799.21,186.03 L799.67,186.84 L800.14,185.71 L800.60,185.60 L800.98,185.69 L801.36,185.12 L801.74,184.67 L802.12,185.34 L802.50,184.75 L802.88,184.68 L803.25,184.51 L803.62,183.84 L804.00,183.10 L804.40,183.36 L804.80,183.42 L805.20,184.28 L805.60,185.00 L805.98,184.82 L806.36,184.85 L806.74,185.46 L807.12,185.44 L807.50,185.40 L807.88,185.05 L808.25,184.97 L808.62,184.59 L809.00,184.40 L809.50,182.28 L810.00,180.00 L810.42,179.25 L810.83,178.30 L811.25,176.90 L811.67,176.09 L812.08,175.23 L812.50,175.25 L812.88,175.88 L813.25,175.47 L813.62,175.93 L814.00,175.60 L814.42,175.19 L814.83,175.91 L815.25,176.25 L815.67,175.51 L816.08,174.20 L816.50,174.00 L816.90,174.20 L817.30,175.08 L817.70,175.61 L818.10,175.60 L818.53,177.26 L818.97,177.37 L819.40,178.75 L819.83,175.39 L820.25,173.10 L820.75,172.05 L821.25,170.60 L821.62,170.87 L822.00,170.50 L822.38,169.84 L822.75,170.25 L823.16,170.42 L823.58,170.30 L823.99,170.09 L824.40,169.75 L824.80,169.15 L825.20,169.04 L825.60,168.81 L826.00,168.10 L826.38,168.36 L826.75,168.35 L827.12,169.65 L827.50,170.00 L827.88,170.03 L828.25,169.71 L828.62,169.89 L829.00,169.40 L829.40,169.58 L829.80,170.17 L830.20,170.48 L830.60,171.00 L831.01,171.34 L831.42,171.86 L831.84,171.28 L832.25,171.50 L832.62,172.22 L833.00,171.96 L833.38,171.61 L833.75,171.25 L834.12,171.64 L834.50,172.25 L834.88,171.67 L835.25,171.90 L835.66,172.16 L836.08,172.10 L836.49,172.98 L836.90,173.10 L837.30,172.16 L837.70,170.40 L838.10,168.75 L838.51,168.75 L838.92,168.35 L839.34,168.33 L839.75,168.10 L840.19,167.47 L840.62,168.32 L841.06,167.68 L841.50,167.75 L841.90,167.52 L842.30,167.84 L842.70,168.00 L843.10,168.50 L843.48,168.88 L843.86,169.00 L844.24,168.13 L844.62,169.05 L845.00,168.75 L845.38,169.14 L845.76,168.63 L846.14,168.34 L846.52,168.67 L846.90,169.00 L847.30,169.51 L847.70,170.63 L848.10,171.25 L848.51,171.36 L848.92,170.98 L849.34,172.09 L849.75,172.25 L850.12,171.58 L850.50,172.42 L850.88,171.53 L851.25,171.90 L851.62,171.94 L852.00,172.18 L852.38,172.59 L852.75,173.10 L853.16,173.29 L853.58,172.82 L853.99,172.43 L854.40,171.90 L854.86,171.92 L855.33,171.11 L855.79,171.40 L856.25,171.50 L856.71,171.07 L857.17,170.68 L857.64,171.02 L858.10,170.60 L858.53,168.87 L858.97,167.43 L859.40,166.25 L859.80,165.39 L860.20,164.54 L860.60,165.09 L861.00,164.40 L861.38,164.68 L861.75,164.02 L862.12,163.35 L862.50,163.50 L862.88,162.32 L863.26,163.27 L863.64,163.51 L864.02,163.01 L864.40,162.75 L864.80,162.73 L865.20,162.56 L865.60,162.05 L866.00,161.25 L866.38,160.21 L866.75,159.90 L867.12,158.92 L867.50,157.75 L867.88,157.42 L868.25,158.10 L868.62,157.96 L869.00,158.75 L869.40,158.55 L869.80,158.64 L870.20,157.86 L870.60,158.10 L871.01,157.17 L871.42,158.29 L871.84,157.79 L872.25,157.50 L872.67,157.86 L873.08,156.60 L873.50,156.90 L873.92,158.14 L874.33,159.35 L874.75,159.40 L875.12,160.46 L875.50,159.92 L875.88,160.40 L876.25,160.60 L876.62,160.08 L877.00,160.05 L877.38,159.61 L877.75,158.75 L878.17,157.73 L878.58,156.13 L879.00,155.60 L879.42,155.18 L879.83,154.02 L880.25,153.50 L880.67,153.82 L881.08,153.77 L881.50,153.75 L882.00,152.19 L882.50,149.40 L883.00,147.93 L883.50,145.60 L883.92,145.03 L884.33,144.93 L884.75,144.40 L885.17,146.10 L885.58,146.26 L886.00,147.50 L886.42,146.91 L886.83,146.45 L887.25,145.25 L887.62,145.60 L888.00,145.20 L888.38,144.37 L888.75,144.75 L889.12,144.90 L889.50,146.09 L889.88,146.77 L890.25,147.25 L890.66,148.13 L891.08,146.75 L891.49,147.42 L891.90,146.90 L892.30,147.82 L892.70,147.51 L893.10,148.46 L893.50,149.40 L893.88,148.99 L894.25,148.26 L894.62,147.92 L895.00,147.50 L895.38,147.05 L895.75,145.94 L896.12,145.80 L896.50,145.00 L896.90,144.82 L897.30,144.92 L897.70,145.39 L898.10,145.25 L898.51,145.12 L898.92,145.53 L899.34,146.12 L899.75,145.60 L900.12,145.94 L900.50,146.19 L900.88,146.85 L901.25,146.90 L901.62,147.06 L902.00,147.91 L902.38,147.31 L902.75,148.10 L903.16,148.75 L903.58,148.73 L903.99,149.03 L904.40,149.75 L904.90,151.05 L905.40,151.00 L905.77,149.80 L906.15,149.92 L906.52,148.63 L906.90,147.50 L907.33,147.59 L907.77,146.20 L908.20,146.10 L908.63,147.19 L909.07,147.92 L909.50,148.00 L909.90,149.32 L910.30,150.68 L910.70,152.10 L911.10,151.73 L911.50,149.57 L911.90,148.20 L912.30,148.01 L912.70,147.91 L913.10,148.29 L913.50,148.10 L913.88,148.80 L914.25,149.32 L914.62,150.48 L915.00,150.40 L915.42,150.71 L915.83,151.45 L916.25,151.70 L916.67,151.49 L917.08,149.79 L917.50,149.40 L917.90,149.32 L918.30,149.15 L918.70,147.46 L919.10,147.50 L919.51,147.23 L919.92,147.41 L920.34,147.25 L920.75,148.10 L921.12,147.97 L921.50,146.79 L921.88,147.39 L922.25,146.90 L922.62,147.13 L923.00,145.64 L923.38,145.80 L923.75,145.60 L924.16,144.72 L924.58,145.60 L924.99,144.87 L925.40,145.00 L925.80,144.07 L926.20,143.35 L926.60,142.50 L927.03,141.24 L927.47,139.43 L927.90,138.10 L928.30,137.48 L928.70,136.64 L929.10,136.27 L929.50,135.60 L929.88,135.15 L930.25,135.62 L930.62,134.87 L931.00,135.60 L931.38,135.11 L931.75,135.73 L932.12,134.73 L932.50,134.40 L932.92,133.49 L933.33,133.63 L933.75,133.10 L934.16,133.52 L934.58,134.05 L934.99,135.18 L935.40,136.25 L935.80,136.37 L936.20,136.07 L936.60,135.73 L937.00,135.60 L937.42,135.68 L937.83,136.06 L938.25,136.90 L938.62,136.46 L939.00,135.09 L939.38,133.69 L939.75,133.10 L940.12,132.46 L940.50,132.90 L940.88,134.53 L941.25,133.75 L941.66,133.63 L942.08,134.35 L942.49,134.77 L942.90,135.00 L943.30,135.25 L943.70,135.52 L944.10,135.42 L944.50,136.25 L944.92,135.63 L945.33,136.46 L945.75,135.60 L946.17,136.58 L946.58,138.45 L947.00,139.40 L947.42,139.37 L947.83,140.53 L948.25,141.25 L948.67,140.73 L949.08,140.41 L949.50,139.40 L949.88,139.06 L950.25,139.80 L950.62,139.81 L951.00,139.75 L951.42,139.75 L951.83,140.50 L952.25,140.60 L952.67,140.89 L953.08,141.56 L953.50,142.50 L953.92,141.66 L954.33,139.80 L954.75,140.00 L955.12,139.48 L955.50,138.67 L955.88,138.02 L956.25,138.10 L956.66,137.31 L957.08,137.14 L957.49,136.07 L957.90,135.60 L958.30,135.62 L958.70,134.23 L959.10,133.71 L959.50,133.75 L959.94,134.03 L960.38,133.28 L960.81,133.17 L961.25,132.50 L961.66,132.50 L962.08,133.43 L962.49,133.54 L962.90,133.75 L963.30,133.75 L963.70,133.26 L964.10,133.46 L964.50,132.75 L964.94,132.92 L965.38,133.21 L965.81,133.43 L966.25,134.40 L966.66,134.52 L967.08,133.47 L967.49,133.03 L967.90,133.10 L968.30,132.44 L968.70,132.33 L969.10,131.72 L969.50,131.90 L969.88,131.31 L970.25,130.71 L970.62,130.27 L971.00,130.00 L971.38,129.64 L971.76,130.01 L972.14,129.82 L972.52,130.04 L972.90,130.00 L973.30,130.24 L973.70,130.43 L974.10,129.62 L974.50,130.60 L974.88,130.10 L975.25,129.70 L975.62,129.99 L976.00,129.40 L976.38,129.26 L976.75,130.05 L977.12,130.68 L977.50,131.25 L977.90,131.50 L978.30,132.38 L978.70,132.21 L979.10,132.75 L979.51,132.74 L979.92,131.44 L980.34,130.94 L980.75,131.25 L981.12,131.55 L981.50,131.09 L981.88,130.95 L982.25,130.60 L982.67,131.08 L983.08,131.65 L983.50,131.90 L983.88,130.71 L984.25,130.81 L984.62,129.52 L985.00,129.00 L985.42,130.34 L985.83,130.97 L986.25,131.90 L986.66,131.30 L987.08,131.71 L987.49,132.78 L987.90,132.50 L988.30,132.30 L988.70,132.05 L989.10,132.14 L989.50,131.90 L989.88,132.04 L990.25,132.29 L990.62,132.84 L991.00,133.10 L991.42,134.20 L991.83,135.78 L992.25,136.25 L992.67,137.43 L993.08,139.30 L993.50,139.75 L993.88,139.94 L994.25,139.40 L994.62,138.65 L995.00,137.75 L995.40,137.99 L995.80,138.18 L996.20,138.26 L996.60,138.50 L997.01,138.45 L997.42,138.92 L997.84,138.93 L998.25,139.40 L998.62,139.70 L999.00,138.95 L999.38,138.26 L999.75,138.10 L1000.21,137.16 L1000.67,137.65 L1001.14,137.30 L1001.60,137.25 L1002.01,136.59 L1002.42,136.32 L1002.84,135.64 L1003.25,136.25 L1003.67,137.08 L1004.08,137.46 L1004.50,138.10 L1004.92,139.91 L1005.33,139.75 L1005.75,140.60 L1006.19,141.62 L1006.62,143.30 L1007.06,143.88 L1007.50,144.90" fill="none" stroke="#e6be62" stroke-width="1.05" stroke-linejoin="round" stroke-linecap="round"/>
<path d="M63.75,436.90 L64.75,425.00 L65.25,412.50 L66.25,404.40 L67.20,402.30 L68.75,401.00 L71.25,400.25 L73.75,401.25 L78.75,402.25 L82.50,404.40 L87.50,406.00 L91.25,407.25 L93.10,409.40 L95.00,411.00 L100.00,411.50 L103.75,409.75 L107.50,409.75 L110.00,410.60 L116.25,411.50 L122.50,411.50 L128.75,411.90 L135.00,411.25 L138.75,409.40 L142.50,406.90 L147.50,403.75 L152.50,402.00 L157.50,401.00 L162.50,399.75 L167.50,398.75 L170.00,397.50 L172.50,395.25 L175.00,391.90 L177.50,386.25 L179.40,380.00 L180.60,373.75 L181.30,370.00 L181.90,365.00 L182.50,358.75 L183.10,351.90 L184.10,354.40 L185.00,350.60 L186.25,348.75 L189.40,347.20 L193.75,346.25 L197.50,346.60 L200.60,347.20 L203.75,346.25 L207.50,344.70 L211.25,343.10 L215.00,341.90 L216.90,340.60 L218.10,338.40 L219.70,336.25 L220.60,332.50 L221.90,326.25 L222.75,318.75 L223.30,311.25 L224.00,304.50 L225.60,301.50 L228.75,299.40 L232.50,297.50 L236.25,295.60 L240.00,294.75 L241.25,294.00 L245.00,293.75 L250.00,294.40 L255.00,294.00 L257.50,292.90 L261.25,292.25 L265.00,291.60 L270.00,291.50 L275.00,291.90 L280.00,292.75 L285.00,293.40 L290.00,294.00 L295.00,295.25 L300.00,296.25 L306.25,296.90 L312.50,297.25 L318.75,297.75 L325.00,298.10 L332.50,298.75 L338.75,299.40 L345.00,299.40 L348.75,298.10 L353.75,297.25 L360.00,296.50 L367.50,296.00 L375.00,295.60 L382.50,294.75 L385.00,294.00 L387.50,292.50 L392.50,291.60 L397.50,291.25 L405.00,290.90 L412.50,290.00 L420.00,288.10 L423.75,285.60 L428.75,284.40 L433.75,282.50 L438.75,281.25 L443.10,279.40 L445.60,276.90 L447.20,274.50 L450.00,270.00 L453.10,266.90 L455.60,265.60 L458.10,264.40 L460.00,260.60 L461.90,256.25 L463.75,252.50 L466.25,249.40 L469.40,248.50 L471.90,246.90 L475.00,243.10 L478.10,239.40 L480.60,235.00 L482.30,230.00 L483.30,224.00 L485.00,218.75 L487.50,216.50 L490.60,216.50 L493.75,217.50 L497.50,216.50 L503.75,216.90 L510.00,216.25 L516.25,217.25 L522.50,217.75 L528.75,218.10 L535.00,218.50 L541.25,219.00 L547.50,220.60 L553.75,221.90 L560.00,222.50 L566.25,222.50 L572.50,222.25 L576.25,220.60 L580.00,219.70 L583.75,217.50 L588.75,216.00 L595.00,215.00 L602.50,214.75 L610.00,215.25 L617.50,215.25 L623.75,214.75 L630.00,215.60 L636.25,215.25 L642.50,214.75 L648.75,214.40 L652.50,213.75 L657.50,212.50 L662.50,212.25 L666.25,211.50 L670.00,209.40 L673.75,207.25 L676.90,205.00 L678.75,202.50 L680.00,199.40 L681.25,196.25 L683.75,194.40 L686.25,191.60 L688.75,188.10 L692.50,185.25 L696.25,182.50 L700.00,180.25 L702.50,179.40 L705.00,180.25 L710.00,181.00 L713.75,181.25 L717.50,180.25 L722.50,179.00 L727.50,178.10 L731.25,176.25 L735.00,174.40 L740.00,174.10 L747.50,174.75 L755.00,174.50 L761.25,174.25 L766.25,174.75 L771.25,175.60 L776.25,176.90 L782.50,177.50 L788.75,178.10 L795.00,178.50 L802.50,179.75 L808.75,180.25 L815.00,180.25 L822.50,180.25 L830.00,180.00 L837.50,179.60 L845.00,179.40 L852.50,179.40 L860.00,179.10 L865.00,178.50 L870.00,177.50 L875.00,176.50 L879.40,176.00 L881.90,174.75 L883.75,172.50 L886.25,171.00 L890.00,169.75 L895.00,169.00 L900.00,168.10 L905.00,167.50 L910.00,167.35 L914.75,167.50 L921.00,166.90 L926.00,165.60 L929.75,163.10 L933.50,160.60 L938.50,159.00 L943.50,158.10 L948.50,158.10 L954.75,157.75 L961.00,156.50 L967.25,155.00 L973.50,153.50 L981.00,152.25 L988.50,151.25 L996.00,151.50 L1002.25,151.35 L1007.50,151.90" fill="none" stroke="#6cc987" stroke-width="0.95" stroke-linejoin="round" stroke-linecap="round"/>
<line x1="64.0" y1="176.9" x2="1007.6" y2="176.9" stroke="#6b6d71" stroke-width="1.5" stroke-dasharray="3.08 1.54"/>
<line x1="1007.9" y1="455.4" x2="1007.9" y2="71.2" stroke="#6b6d71" stroke-width="1.5" stroke-dasharray="3.08 1.54"/>
<circle cx="1007.5" cy="145.1" r="3.4" fill="#fff" stroke="#e6be62" stroke-width="1.8"/>
<circle cx="1007.5" cy="152.1" r="3.4" fill="#fff" stroke="#6cc987" stroke-width="1.8"/>
<rect x="11.5" y="168.2" width="49.7" height="16.6" rx="2.5" fill="#000"/>
<text x="17" y="179.4" font-size="9.6" font-weight="700" fill="#fff" textLength="39" lengthAdjust="spacingAndGlyphs">22,655.36</text>
<rect x="941.2" y="458.2" width="81.8" height="16.4" rx="2.5" fill="#000"/>
<text x="946.7" y="468.9" font-size="9.6" font-weight="700" fill="#fff" textLength="71.3" lengthAdjust="spacingAndGlyphs">9 Feb 2026, 03:00</text>
<defs><filter id="sh" filterUnits="userSpaceOnUse" x="730" y="130" width="294" height="260"><feGaussianBlur stdDeviation="13"/></filter></defs>
<rect x="816" y="203" width="176" height="82" rx="8" fill="#000" opacity="0.6" filter="url(#sh)"/>
<rect x="816.2" y="192.8" width="175.3" height="80.2" rx="6" fill="#030408"/>
<text x="827.5" y="216.4" font-size="11.7" fill="#f2f3f4" stroke="#f2f3f4" stroke-width="0.45" textLength="89" lengthAdjust="spacingAndGlyphs">9 Feb 2026, 03:00</text>
<circle cx="831" cy="237" r="3.1" fill="#e6be62" stroke="#e2e3e4" stroke-width="1.8"/>
<text x="838.8" y="240.9" font-size="11.6" fill="#d3d6da" stroke="#d3d6da" stroke-width="0.2" textLength="48.5" lengthAdjust="spacingAndGlyphs">BTC Price</text>
<text x="927" y="240.9" font-size="11.7" fill="#f2f3f4" stroke="#f2f3f4" stroke-width="0.45" textLength="52.4" lengthAdjust="spacingAndGlyphs">$70243.33</text>
<circle cx="831" cy="254.1" r="3.1" fill="#6cc987" stroke="#e2e3e4" stroke-width="1.8"/>
<text x="838.8" y="258.0" font-size="11.6" fill="#d3d6da" stroke="#d3d6da" stroke-width="0.2" textLength="71.8" lengthAdjust="spacingAndGlyphs">Realized Price</text>
<text x="927" y="258.0" font-size="11.7" fill="#f2f3f4" stroke="#f2f3f4" stroke-width="0.45" textLength="52.4" lengthAdjust="spacingAndGlyphs">$54632.30</text>
</svg></body></html>
